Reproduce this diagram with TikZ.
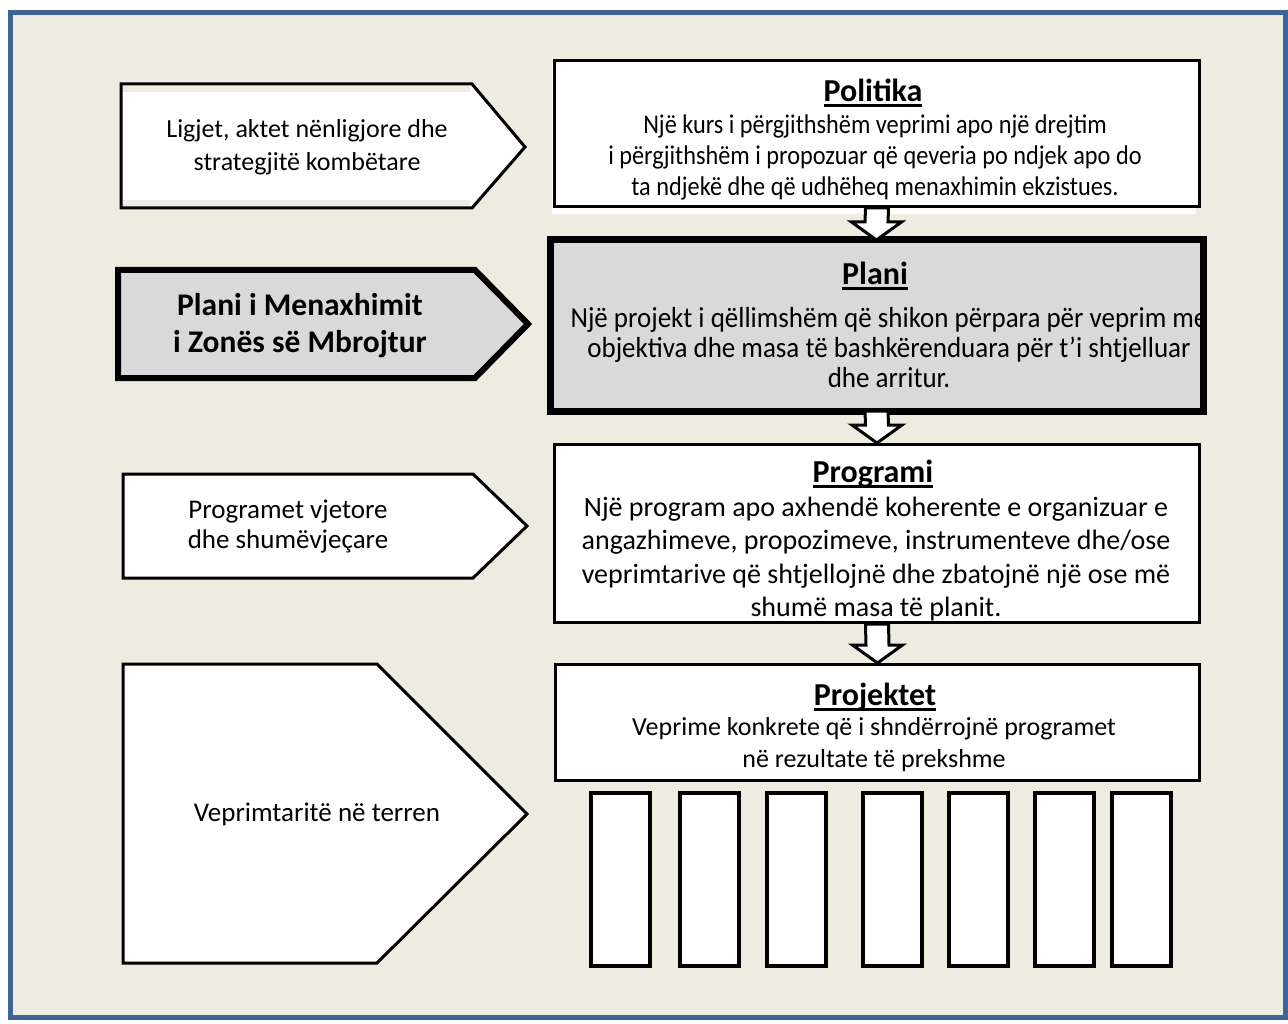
\documentclass[tikz,border=0pt]{standalone}
\usepackage{fontspec}
\setmainfont{Carlito}
\newfontfamily\condfont{Carlito}[FakeStretch=0.9]
\newfontfamily\condfontb{Carlito}[FakeStretch=0.93]
\usetikzlibrary{calc}
\definecolor{bgtan}{HTML}{EEECE1}
\definecolor{frameblue}{HTML}{3C6496}
\definecolor{plgrey}{HTML}{D9D9D9}
\newcommand\myul[1]{\setbox0\hbox{#1}\rlap{\rule[-5pt]{\wd0}{2.6pt}}\box0}
\begin{document}
\begin{tikzpicture}[x=1pt,y=-1pt,
  box/.style={draw=black,line width=3pt,fill=white,rectangle,inner sep=0pt,anchor=north west},
  txt/.style={align=center,inner sep=0pt,font=\fontsize{25}{32}\selectfont},
  ttl/.style={inner sep=0pt,font=\fontsize{32}{34}\selectfont\bfseries},
  lbl/.style={align=center,inner sep=0pt,font=\fontsize{26}{33}\selectfont},
  pent/.style={draw=black,line width=3pt,fill=white,line join=miter},
  darr/.style={draw=black,line width=3pt,fill=white,line join=miter},
  col/.style={draw=black,line width=4pt,fill=white,minimum width=59pt,minimum height=173pt,anchor=north west,inner sep=0pt}
]
\useasboundingbox (0,0) rectangle (1288,1024);
\fill[white] (0,0) rectangle (1288,1024);
\draw[frameblue,line width=5pt,fill=bgtan] (10,13) rectangle (1285,1017);

% left pentagons
\draw[pent] (121,84) -- (472,84) -- (525,147) -- (472,208) -- (121,208) -- cycle;
\fill[bgtan] (123,86) rectangle (470,92);
\fill[bgtan] (123,200) rectangle (470,206);
\node[lbl] (lig) at (307,147) {Ligjet, aktet nënligjore dhe\\strategjitë kombëtare};

\draw[pent,fill=plgrey,line width=6pt] (118,270) -- (475,270) -- (528,324) -- (475,378) -- (118,378) -- cycle;
\node[lbl,font=\fontsize{31.5}{37}\selectfont\bfseries] (pmz) at (300,326) {Plani i Menaxhimit\\i Zonës së Mbrojtur};

\draw[pent] (123,474) -- (473,474) -- (527,526) -- (473,578) -- (123,578) -- cycle;
\node[lbl,font=\fontsize{27}{30}\selectfont] (prv) at (288,527) {Programet vjetore\\dhe shumëvjeçare};

\draw[pent] (123,664) -- (377,664) -- (527,814) -- (377,963) -- (123,963) -- cycle;
\node[lbl,font=\fontsize{27}{33}\selectfont] (vpt) at (317,814) {Veprimtaritë në terren};

% Politika
\fill[white] (552,62) rectangle (1196,214);
\node[box,minimum width=645pt,minimum height=146pt] (pol) at (553,59) {};
\node[ttl] (polT) at (873,93) {\myul{Politika}};
\node[txt,font=\fontsize{27}{31}\selectfont\condfont] (polB) at (875,157) {Një kurs i përgjithshëm veprimi apo një drejtim\\i përgjithshëm i propozuar që qeveria po ndjek apo do\\ta ndjekë dhe që udhëheq menaxhimin ekzistues.};

% Plani
\node[box,fill=plgrey,draw=none,minimum width=650pt,minimum height=168pt] (plan) at (550,240) {};
\node[ttl] (planT) at (875,276) {\myul{Plani}};
\node[txt,font=\fontsize{29}{30}\selectfont\condfontb] (planB) at (889,348) {Një projekt i qëllimshëm që shikon përpara për veprim me\\objektiva dhe masa të bashkërenduara për t’i shtjelluar\\dhe arritur.};
\draw[black,line width=7pt] (plan.north west) rectangle (plan.south east);

% Programi
\node[box,minimum width=645pt,minimum height=178pt] (prg) at (553,443) {};
\node[ttl] (prgT) at (873,474) {\myul{Programi}};
\node[txt,font=\fontsize{28}{33.3}\selectfont] (prgB) at (876,559) {Një program apo axhendë koherente e organizuar e\\angazhimeve, propozimeve, instrumenteve dhe/ose\\veprimtarive që shtjellojnë dhe zbatojnë një ose më\\shumë masa të planit.};

% Projektet
\node[box,minimum width=644pt,minimum height=116pt] (prj) at (554,663) {};
\node[ttl] (prjT) at (875,697) {\myul{Projektet}};
\node[txt,font=\fontsize{26}{32}\selectfont] (prjB) at (874,745) {Veprime konkrete që i shndërrojnë programet\\në rezultate të prekshme};

% columns
\node[col] (c1) at (589,791) {};
\node[col] (c2) at (678,791) {};
\node[col] (c3) at (765,791) {};
\node[col] (c4) at (861,791) {};
\node[col] (c5) at (947,791) {};
\node[col] (c6) at (1033,791) {};
\node[col] (c7) at (1110,791) {};

% down arrows
\foreach \a/\b in {pol/plan,plan/prg,prg/prj}{
  \draw[darr] ($(\a.south)+(-11.5,0)$) -- ($(\a.south)+(11.5,0)$) -- ($(\b.north)+(11.5,-18)$) -- ($(\b.north)+(25,-18)$) -- (\b.north) -- ($(\b.north)+(-25,-18)$) -- ($(\b.north)+(-11.5,-18)$) -- cycle;
}
\end{tikzpicture}
\end{document}
